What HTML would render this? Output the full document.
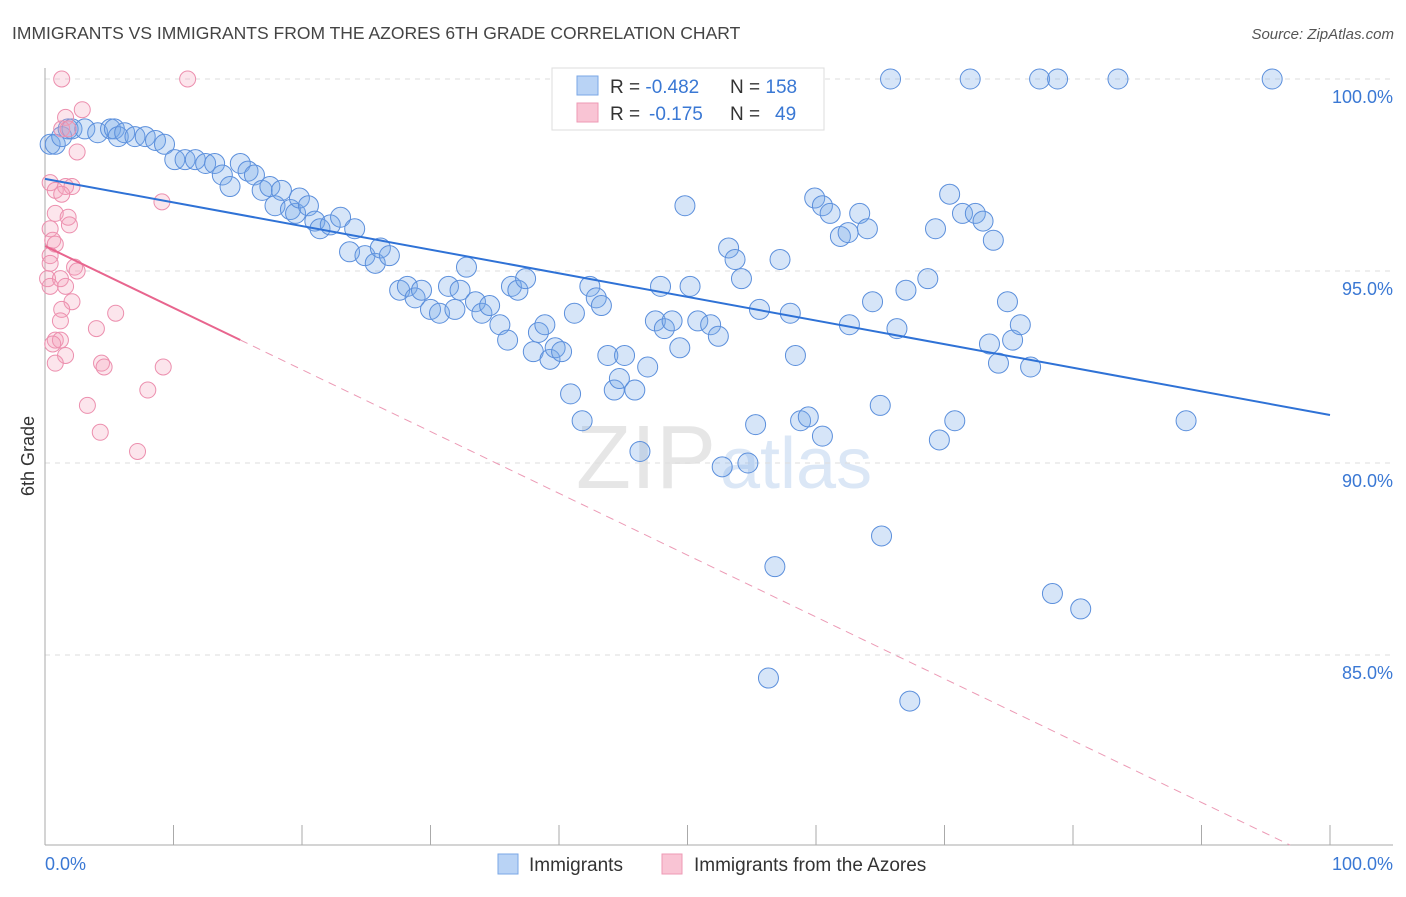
<!DOCTYPE html>
<html><head><meta charset="utf-8"><style>
body{margin:0;background:#fff;font-family:"Liberation Sans",sans-serif;}
svg text{font-family:"Liberation Sans",sans-serif;}
</style></head><body>
<svg id="chart" width="1406" height="892" xmlns="http://www.w3.org/2000/svg">
<text x="12" y="39" font-size="17.5" fill="#444">IMMIGRANTS VS IMMIGRANTS FROM THE AZORES 6TH GRADE CORRELATION CHART</text>
<text x="1394" y="39" font-size="15" fill="#555" text-anchor="end" font-style="italic">Source: ZipAtlas.com</text>
<text x="716" y="488" font-size="90" fill="#e6e6e6" text-anchor="end" font-family="Liberation Serif">ZIP</text>
<text x="720" y="488" font-size="72" fill="#dbe7f6">atlas</text>
<g id="grid"></g>
<g id="axes"></g>
<g id="pts"></g>
<g id="trend"></g>
<text transform="translate(34,456) rotate(-90)" font-size="18" fill="#333" text-anchor="middle">6th Grade</text>
<g>
<rect x="552" y="68" width="272" height="62" fill="#fff" stroke="#ddd"/>
<rect x="577" y="76" width="21" height="19" fill="#b9d3f5" stroke="#7aa7e6"/>
<rect x="577" y="103" width="21" height="19" fill="#f9c4d4" stroke="#ee9ab5"/>
<text x="610" y="93" font-size="19" fill="#333">R = <tspan fill="#3a78d4">-0.482</tspan><tspan x="730">N = </tspan><tspan fill="#3a78d4">158</tspan></text>
<text x="610" y="120" font-size="19" fill="#333">R = <tspan x="649" fill="#3a78d4">-0.175</tspan><tspan x="730">N = </tspan><tspan x="775" fill="#3a78d4">49</tspan></text>
</g>
<g>
<rect x="498" y="854" width="20" height="20" fill="#b9d3f5" stroke="#7aa7e6"/>
<text x="529" y="871" font-size="19" fill="#333">Immigrants</text>
<rect x="662" y="854" width="20" height="20" fill="#f9c4d4" stroke="#ee9ab5"/>
<text x="694" y="871" font-size="19" fill="#333">Immigrants from the Azores</text>
</g>
</svg>
<script>
const yTicks=[100,95,90,85];
const yTickLabels=["100.0%","95.0%","90.0%","85.0%"];
const xTicks=[0,10,20,30,40,50,60,70,80,90,100];
const blueData=[[0.4,98.3],[0.8,98.3],[1.3,98.5],[1.8,98.7],[2.1,98.7],[3.1,98.7],[4.1,98.6],[5.1,98.7],[5.4,98.7],[5.7,98.5],[6.2,98.6],[7.0,98.5],[7.8,98.5],[8.6,98.4],[9.3,98.3],[10.1,97.9],[10.9,97.9],[11.7,97.9],[12.5,97.8],[13.2,97.8],[13.8,97.5],[14.4,97.2],[15.2,97.8],[15.8,97.6],[16.3,97.5],[16.9,97.1],[17.5,97.2],[17.9,96.7],[18.4,97.1],[19.1,96.6],[19.5,96.5],[19.8,96.9],[20.5,96.7],[21.0,96.3],[21.4,96.1],[22.2,96.2],[23.0,96.4],[23.7,95.5],[24.1,96.1],[24.9,95.4],[25.7,95.2],[26.1,95.6],[26.8,95.4],[27.6,94.5],[28.2,94.6],[28.8,94.3],[29.3,94.5],[30.0,94.0],[30.7,93.9],[31.4,94.6],[31.9,94.0],[32.3,94.5],[32.8,95.1],[33.5,94.2],[34.0,93.9],[34.6,94.1],[35.4,93.6],[36.0,93.2],[36.3,94.6],[36.8,94.5],[37.4,94.8],[38.0,92.9],[38.4,93.4],[38.9,93.6],[39.3,92.7],[39.7,93.0],[40.2,92.9],[40.9,91.8],[41.2,93.9],[41.8,91.1],[42.4,94.6],[42.9,94.3],[43.3,94.1],[43.8,92.8],[44.3,91.9],[44.7,92.2],[45.1,92.8],[45.9,91.9],[46.3,90.3],[46.9,92.5],[47.5,93.7],[47.9,94.6],[48.2,93.5],[48.8,93.7],[49.4,93.0],[49.8,96.7],[50.2,94.6],[50.8,93.7],[51.8,93.6],[52.4,93.3],[52.7,89.9],[53.2,95.6],[53.7,95.3],[54.2,94.8],[54.7,90.0],[55.3,91.0],[55.6,94.0],[56.3,84.4],[56.8,87.3],[57.2,95.3],[58.0,93.9],[58.4,92.8],[58.8,91.1],[59.4,91.2],[59.9,96.9],[60.5,96.7],[60.5,90.7],[61.1,96.5],[61.9,95.9],[62.5,96.0],[62.6,93.6],[63.4,96.5],[64.0,96.1],[64.4,94.2],[65.0,91.5],[65.1,88.1],[65.8,100],[66.3,93.5],[67.0,94.5],[67.3,83.8],[68.7,94.8],[69.3,96.1],[69.6,90.6],[70.4,97.0],[70.8,91.1],[71.4,96.5],[72.0,100],[72.4,96.5],[73.0,96.3],[73.5,93.1],[73.8,95.8],[74.2,92.6],[74.9,94.2],[75.3,93.2],[75.9,93.6],[76.7,92.5],[77.4,100],[78.4,86.6],[78.8,100],[80.6,86.2],[83.5,100],[88.8,91.1],[95.5,100]];
const pinkData=[[1.3,100],[11.1,100],[1.6,99.0],[2.9,99.2],[1.3,98.7],[1.8,98.7],[2.5,98.1],[0.4,97.3],[0.8,97.1],[1.6,97.2],[2.1,97.2],[1.3,97.0],[9.1,96.8],[0.8,96.5],[1.8,96.4],[1.9,96.2],[0.4,96.1],[0.6,95.8],[0.8,95.7],[0.4,95.4],[0.4,95.2],[2.3,95.1],[2.5,95.0],[0.2,94.8],[1.2,94.8],[0.4,94.6],[1.6,94.6],[2.1,94.2],[1.3,94.0],[1.2,93.7],[5.5,93.9],[4.0,93.5],[0.8,93.2],[1.2,93.2],[0.6,93.1],[1.6,92.8],[0.8,92.6],[4.4,92.6],[4.6,92.5],[9.2,92.5],[8.0,91.9],[3.3,91.5],[4.3,90.8],[7.2,90.3]];
const blueTrend=[97.4,91.25];
const pinkTrend=[95.65,80.05];
const pinkSolidEnd=15.2;

const NS="http://www.w3.org/2000/svg";
const X0=45,X1=1330,Y100=79,PXPERPCT=38.4;
function xs(v){return X0+(X1-X0)*v/100;}
function ys(v){return Y100+(100-v)*PXPERPCT;}
function mk(tag,attrs,parent){const e=document.createElementNS(NS,tag);for(const k in attrs)e.setAttribute(k,attrs[k]);parent.appendChild(e);return e;}
const grid=document.getElementById('grid'),axes=document.getElementById('axes'),pts=document.getElementById('pts'),trend=document.getElementById('trend');
yTicks.forEach((t,i)=>{
 const l=mk('line',{x1:X0,x2:1393,y1:ys(t),y2:ys(t),stroke:'#ddd','stroke-dasharray':'5,5'},grid);
 
 
 const tx=mk('text',{x:1393,y:ys(t)+24,'font-size':18,fill:'#3a78d4','text-anchor':'end'},grid);
 tx.textContent=yTickLabels[i];
 
 
});
const ax=mk('line',{x1:X0,x2:X0,y1:68,y2:845,stroke:'#aaa'},axes);


const bx=mk('line',{x1:X0,x2:1393,y1:845,y2:845,stroke:'#aaa'},axes);


xTicks.forEach(t=>{
 const tk=mk('line',{x1:xs(t),x2:xs(t),y1:825,y2:845,stroke:'#aaa'},axes);
 
 
});
const xl0=mk('text',{x:45,y:870,'font-size':18,fill:'#3a78d4'},axes);xl0.textContent='0.0%';


const xl1=mk('text',{x:1393,y:870,'font-size':18,fill:'#3a78d4','text-anchor':'end'},axes);xl1.textContent='100.0%';


blueData.forEach(d=>{
 const c=mk('circle',{cx:xs(d[0]),cy:ys(d[1]),r:10,fill:'rgba(120,168,232,0.3)',stroke:'#5b8fdc','stroke-width':1},pts);
 
 
});
pinkData.forEach(d=>{
 const c=mk('circle',{cx:xs(d[0]),cy:ys(d[1]),r:8,fill:'rgba(245,160,188,0.28)',stroke:'#ec8fae','stroke-width':1},pts);
 
 
});
const bt=mk('line',{x1:xs(0),y1:ys(blueTrend[0]),x2:xs(100),y2:ys(blueTrend[1]),stroke:'#2f72d6','stroke-width':2},trend);


const pAt=x=>pinkTrend[0]+(pinkTrend[1]-pinkTrend[0])*x/96.9;
const ps=mk('line',{x1:xs(0),y1:ys(pinkTrend[0]),x2:xs(pinkSolidEnd),y2:ys(pAt(pinkSolidEnd)),stroke:'#e8658e','stroke-width':2},trend);


const pd=mk('line',{x1:xs(pinkSolidEnd),y1:ys(pAt(pinkSolidEnd)),x2:xs(96.9),y2:ys(pinkTrend[1]),stroke:'#ec9ab5','stroke-width':1,'stroke-dasharray':'8,6'},trend);


</script>
</body></html>
